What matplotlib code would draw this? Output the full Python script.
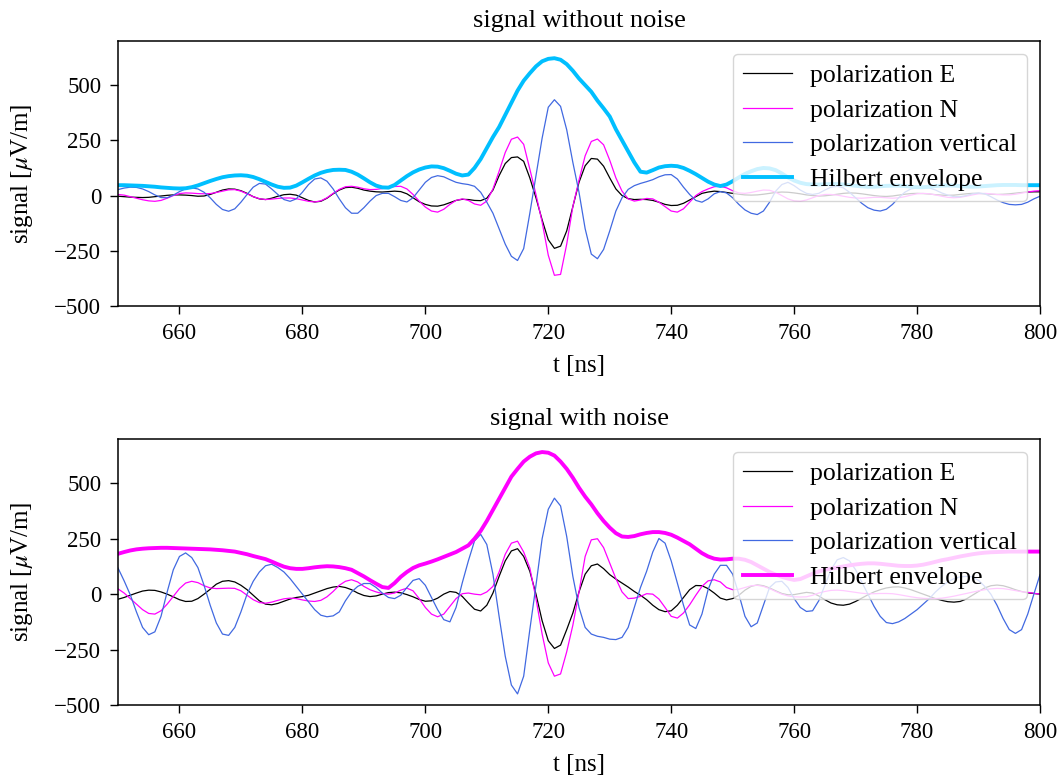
import numpy as np
import matplotlib

matplotlib.use("Agg")
import matplotlib.pyplot as plt  # noqa: E402

# sampling grid, 1 ns steps
t_ns = np.arange(650, 801)

# signal without noise
clean_e = [
    -3, -5, -7, -8, -9, -8, -5, -2, 1, 3,
    3, 2, 0, -3, -2, 5, 15, 25, 30, 29,
    22, 10, -5, -15, -18, -12, -3, 4, 6, 2,
    -10, -22, -29, -26, -12, 8, 25, 36, 38, 33,
    25, 20, 17, 16, 18, 20, 18, 8, -10, -28,
    -40, -47, -48, -42, -32, -22, -17, -18, -22, -23,
    -12, 25, 90, 145, 172, 175, 155, 80, -10, -110,
    -200, -239, -229, -160, -50, 60, 135, 168, 165, 133,
    80, 30, 0, -14, -18, -17, -18, -22, -30, -40,
    -45, -44, -35, -20, -5, 10, 16, 20, 18, 14,
    10, 6, 3, 2, 3, 6, 10, 14, 16, 15,
    12, 8, 3, 0, -2, -1, 2, 6, 10, 12,
    11, 8, 4, 0, -3, -4, -2, 2, 6, 9,
    10, 9, 7, 4, 2, 1, 2, 5, 8, 10,
    10, 8, 6, 5, 6, 8, 11, 14, 16, 17,
    17,
]
clean_n = [
    5, 2, -5, -12, -19, -24, -26, -22, -12, 0,
    9, 12, 11, 9, 8, 9, 14, 20, 26, 27,
    20, 8, -5, -14, -18, -16, -13, -11, -11, -14,
    -20, -26, -29, -24, -10, 10, 28, 40, 42, 38,
    31, 27, 28, 32, 37, 41, 42, 30, 5, -25,
    -52, -70, -75, -62, -40, -22, -15, -22, -38, -44,
    -25, 30, 110, 195, 255, 265, 232, 120, 5, -120,
    -270, -361, -357, -220, -50, 70, 180, 245, 256, 230,
    160, 80, 20, -15, -25, -20, -13, -15, -30, -50,
    -70, -75, -60, -30, 0, 18, 30, 40, 42, 35,
    22, 12, 10, 14, 20, 25, 24, 15, 0, -15,
    -24, -26, -20, -10, 0, 5, 5, 2, -3, -8,
    -11, -12, -10, -8, -8, -10, -12, -10, -5, 2,
    8, 10, 8, 3, -3, -8, -10, -8, -3, 3,
    8, 10, 8, 5, 3, 3, 6, 11, 16, 20,
    22,
]
clean_v = [
    27, 34, 38, 37, 30, 18, 3, -9, -10, 2,
    18, 30, 35, 30, 15, -10, -40, -63, -71, -60,
    -30, 5, 38, 55, 52, 30, 5, -18, -26, -15,
    15, 50, 75, 80, 65, 30, -15, -55, -80, -80,
    -55, -25, 0, 10, 10, -5, -22, -29, -10, 25,
    60, 82, 90, 85, 72, 60, 54, 50, 42, 15,
    -30, -80, -150, -220, -275, -294, -240, -80, 90, 260,
    400, 434, 404, 298, 150, 15, -150, -265, -286, -244,
    -160, -70, -10, 28, 45, 55, 63, 72, 85, 94,
    95, 75, 38, 5, -22, -30, -15, 8, 18, 12,
    -10, -40, -65, -80, -86, -70, -30, 20, 50, 60,
    45, 25, 10, 5, 10, 25, 38, 42, 35, 15,
    -10, -35, -55, -66, -70, -62, -40, -10, 15, 30,
    35, 38, 35, 25, 12, 2, -5, -5, 0, 8,
    12, 8, -5, -20, -32, -40, -42, -40, -30, -15,
    -3,
]
clean_env = [
    47, 47, 46, 45, 44, 42, 40, 37, 35, 33,
    32, 33, 38, 46, 56, 66, 75, 83, 88, 91,
    92, 90, 84, 74, 62, 50, 40, 35, 36, 45,
    60, 76, 91, 103, 111, 116, 117, 116, 108, 95,
    78, 60, 45, 37, 36, 48, 68, 88, 105, 118,
    127, 132, 131, 124, 112, 99, 91, 95, 125, 165,
    215, 265, 310, 365, 420, 475, 520, 554, 585, 608,
    619, 622, 615, 595, 565, 530, 500, 470, 430, 395,
    358, 300, 250, 200, 150, 108, 104, 115, 127, 133,
    135, 133, 125, 112, 97, 80, 63, 50, 43, 50,
    65, 82, 98, 110, 120, 125, 123, 115, 100, 82,
    68, 58, 52, 50, 50, 51, 52, 52, 50, 47,
    44, 42, 40, 40, 42, 44, 45, 45, 43, 40,
    38, 38, 40, 43, 45, 46, 45, 43, 41, 40,
    41, 43, 45, 47, 48, 48, 48, 47, 47, 47,
    47,
]

# signal with noise
noisy_e = [
    -23, -15, -5, 5, 14, 18, 17, 10, 0, -12,
    -25, -33, -32, -20, 0, 22, 45, 58, 61, 55,
    40, 20, -5, -30, -45, -48, -42, -32, -22, -15,
    -11, -5, 5, 15, 25, 32, 35, 30, 20, 5,
    -6, -11, -8, 0, 7, 9, 6, -2, -12, -24,
    -32, -30, -18, 0, 12, 8, -10, -40, -68, -76,
    -50, 5, 80, 150, 195, 205, 170, 103, 0, -120,
    -210, -245, -230, -160, -85, 10, 90, 128, 136, 115,
    88, 68, 50, 32, 12, -5, -25, -50, -70, -79,
    -75, -50, -15, 20, 39, 38, 25, 5, -18, -26,
    -20, -5, 18, 35, 42, 38, 28, 15, 3, -3,
    -2, 3, 8, 5, -8, -25, -40, -48, -50, -45,
    -33, -18, -3, 10, 20, 28, 32, 33, 28, 20,
    10, 0, -10, -20, -28, -34, -36, -33, -22, -5,
    12, 28, 38, 41, 38, 30, 20, 12, 6, 3,
    0,
]
noisy_n = [
    24, 5, -20, -45, -70, -87, -90, -75, -45, -10,
    25, 50, 58, 52, 38, 28, 25, 26, 27, 26,
    15, -5, -25, -38, -41, -36, -28, -21, -18, -20,
    -26, -31, -33, -28, -12, 12, 40, 58, 65, 55,
    35, 20, 10, 3, 0, 5, 18, 27, 15, -20,
    -60, -90, -102, -90, -55, -20, 2, 5, 0, -3,
    10, 35, 100, 180, 230, 239, 190, 118, -20, -180,
    -310, -370, -360, -260, -140, 10, 170, 245, 250, 210,
    140, 70, 10, -20, -18, -10, 2, 0, -22, -60,
    -100, -108, -85, -48, -5, 35, 60, 65, 55, 30,
    20, 22, 30, 38, 40, 35, 25, 12, 0, -8,
    -12, -13, -12, -5, 5, 12, 17, 18, 16, 12,
    8, 4, 2, 2, 3, 3, 2, -2, -7, -12,
    -16, -19, -20, -20, -18, -14, -9, -3, 3, 9,
    15, 20, 24, 26, 25, 21, 16, 11, 8, 4,
    0,
]
noisy_v = [
    118, 60, -3, -80, -150, -183, -170, -100, 10, 110,
    170, 186, 165, 120, 40, -50, -130, -180, -186, -150,
    -80, 0, 58, 100, 128, 135, 120, 100, 70, 35,
    0, -35, -70, -95, -102, -98, -80, -30, 10, 35,
    48, 48, 30, 5, -15, -20, -5, 30, 62, 70,
    40, -15, -70, -115, -125, -60, 50, 150, 240, 270,
    224, 90, -100, -280, -410, -450, -370, -160, 40, 250,
    383, 433, 398, 260, 80, -60, -150, -180, -190, -195,
    -203, -205, -195, -150, -60, 30, 103, 190, 251, 230,
    150, 50, -50, -139, -155, -90, 20, 90, 130, 130,
    90, 0, -100, -147, -130, -50, 30, 55, 58, 30,
    -20, -60, -78, -75, -30, 40, 110, 155, 165, 150,
    110, 55, 0, -55, -100, -128, -133, -125, -110, -90,
    -70, -45, -20, 10, 35, 55, 70, 78, 80, 78,
    62, 35, 0, -50, -110, -160, -177, -160, -90, 0,
    88,
]
noisy_env = [
    182, 190, 197, 202, 205, 207, 208, 209, 209, 208,
    207, 206, 205, 204, 203, 202, 200, 198, 195, 192,
    186, 180, 172, 165, 158, 147, 135, 124, 117, 114,
    114, 117, 121, 124, 126, 125, 122, 117, 110, 95,
    80, 63, 47, 32, 28, 50, 78, 100, 118, 130,
    138, 147, 157, 168, 179, 190, 205, 220, 250, 285,
    330, 380, 430, 480, 530, 565, 598, 620, 635, 641,
    638, 625, 598, 565, 525, 480, 440, 405, 365, 330,
    300, 275, 260, 258, 262, 270, 276, 280, 280, 276,
    268, 255, 240, 225, 205, 185, 170, 160, 156, 157,
    160, 160, 155, 145, 130, 115, 100, 88, 78, 70,
    64, 68, 80, 92, 102, 110, 115, 120, 125, 130,
    134, 137, 139, 139, 137, 134, 131, 128, 127, 127,
    129, 133, 139, 146, 153, 158, 164, 170, 175, 180,
    184, 187, 189, 190, 191, 192, 192, 192, 192, 192,
    192,
]

panels = [
    ("signal without noise", clean_e, clean_n, clean_v, clean_env, "#00bfff"),
    ("signal with noise", noisy_e, noisy_n, noisy_v, noisy_env, "#ff00ff"),
]

plt.rcParams.update(
    {
        "font.family": ["Liberation Serif", "DejaVu Serif"],
        "mathtext.fontset": "stix",
        "font.size": 18,
        "axes.titlesize": 19,
        "axes.labelsize": 18,
        "xtick.labelsize": 16.5,
        "ytick.labelsize": 16.5,
        "legend.fontsize": 18.5,
        "axes.linewidth": 1.1,
    }
)

fig = plt.figure(figsize=(10.62, 7.79), dpi=100)
ax_top = fig.add_axes([0.1111, 0.6072, 0.8682, 0.3402])
ax_bot = fig.add_axes([0.1111, 0.0950, 0.8682, 0.3415])

for ax, (title, e, n, v, env, env_color) in zip([ax_top, ax_bot], panels):
    ax.plot(t_ns, e, color="black", lw=0.9, label="polarization E")
    ax.plot(t_ns, n, color="#ff00ff", lw=0.9, label="polarization N")
    ax.plot(t_ns, v, color="#4169e1", lw=0.9, label="polarization vertical")
    ax.plot(t_ns, env, color=env_color, lw=2.8, label="Hilbert envelope")
    ax.set_xlim(650, 800)
    ax.set_ylim(-500, 700)
    ax.set_xticks(range(660, 801, 20))
    ax.set_yticks([-500, -250, 0, 250, 500])
    ax.set_title(title, pad=10)
    ax.set_xlabel("t [ns]", labelpad=8)
    ax.set_ylabel(r"signal [$\mu$V/m]", labelpad=14)
    ax.tick_params(direction="out", length=6, width=1.0, pad=6)
    ax.legend(
        loc="upper right",
        framealpha=0.8,
        handlelength=1.9,
        handletextpad=0.7,
        labelspacing=0.45,
        borderaxespad=0.5,
    )

fig.savefig("out.png", dpi=100)
